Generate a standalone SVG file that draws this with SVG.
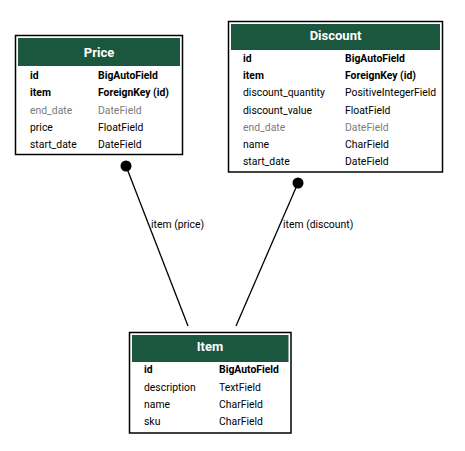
<svg xmlns="http://www.w3.org/2000/svg" width="465" height="451" viewBox="0 0 465 451">
<style>
.box{fill:#ffffff;stroke:#000000;stroke-width:1.5}
.hdr{fill:#1b563f}
.title{font-family:Roboto,"Liberation Sans",sans-serif;font-size:13px;font-weight:bold;fill:#ffffff;text-anchor:middle}
.t{font-family:Roboto,"Liberation Sans",sans-serif;font-size:10.4px;fill:#000000}
.b{font-weight:bold}
.g{fill:#7b7b7b}
.edge{stroke:#000000;stroke-width:1.3;fill:none}
.lbl{font-family:Roboto,"Liberation Sans",sans-serif;font-size:10.4px;fill:#000000}
</style>
<rect width="465" height="451" fill="#ffffff"/>
<g id="connectors">
<line class="edge" x1="126" y1="166" x2="188" y2="326"/>
<circle cx="126" cy="166" r="5.5" fill="#000000"/>
<text class="lbl" x="151" y="228">item (price)</text>
<line class="edge" x1="298" y1="183" x2="236" y2="326"/>
<circle cx="298" cy="183" r="5.5" fill="#000000"/>
<text class="lbl" x="283" y="228">item (discount)</text>
</g>
<g id="Price">
<rect class="box" x="15.5" y="35.5" width="167" height="119"/>
<rect class="hdr" x="18" y="38" width="162" height="28"/>
<text class="title" x="99" y="56.5">Price</text>
<text class="t b" x="30" y="79">id</text><text class="t b" x="98" y="79">BigAutoField</text>
<text class="t b" x="30" y="96">item</text><text class="t b" x="98" y="96">ForeignKey (id)</text>
<text class="t g" x="30" y="114">end_date</text><text class="t g" x="98" y="114">DateField</text>
<text class="t" x="30" y="131">price</text><text class="t" x="98" y="131">FloatField</text>
<text class="t" x="30" y="148">start_date</text><text class="t" x="98" y="148">DateField</text>
</g>
<g id="Discount">
<rect class="box" x="228.5" y="21.5" width="214" height="150.5"/>
<rect class="hdr" x="231" y="24" width="209" height="26"/>
<text class="title" x="335.5" y="39.5">Discount</text>
<text class="t b" x="243" y="62">id</text><text class="t b" x="345" y="62">BigAutoField</text>
<text class="t b" x="243" y="79">item</text><text class="t b" x="345" y="79">ForeignKey (id)</text>
<text class="t" x="243" y="96">discount_quantity</text><text class="t" x="345" y="96">PositiveIntegerField</text>
<text class="t" x="243" y="114">discount_value</text><text class="t" x="345" y="114">FloatField</text>
<text class="t g" x="243" y="131">end_date</text><text class="t g" x="345" y="131">DateField</text>
<text class="t" x="243" y="148">name</text><text class="t" x="345" y="148">CharField</text>
<text class="t" x="243" y="165">start_date</text><text class="t" x="345" y="165">DateField</text>
</g>
<g id="Item">
<rect class="box" x="129.5" y="332.5" width="161.5" height="100.5"/>
<rect class="hdr" x="132" y="335" width="156.5" height="27"/>
<text class="title" x="210" y="351">Item</text>
<text class="t b" x="144" y="373">id</text><text class="t b" x="219" y="373">BigAutoField</text>
<text class="t" x="144" y="391">description</text><text class="t" x="219" y="391">TextField</text>
<text class="t" x="144" y="408">name</text><text class="t" x="219" y="408">CharField</text>
<text class="t" x="144" y="425">sku</text><text class="t" x="219" y="425">CharField</text>
</g>
</svg>
